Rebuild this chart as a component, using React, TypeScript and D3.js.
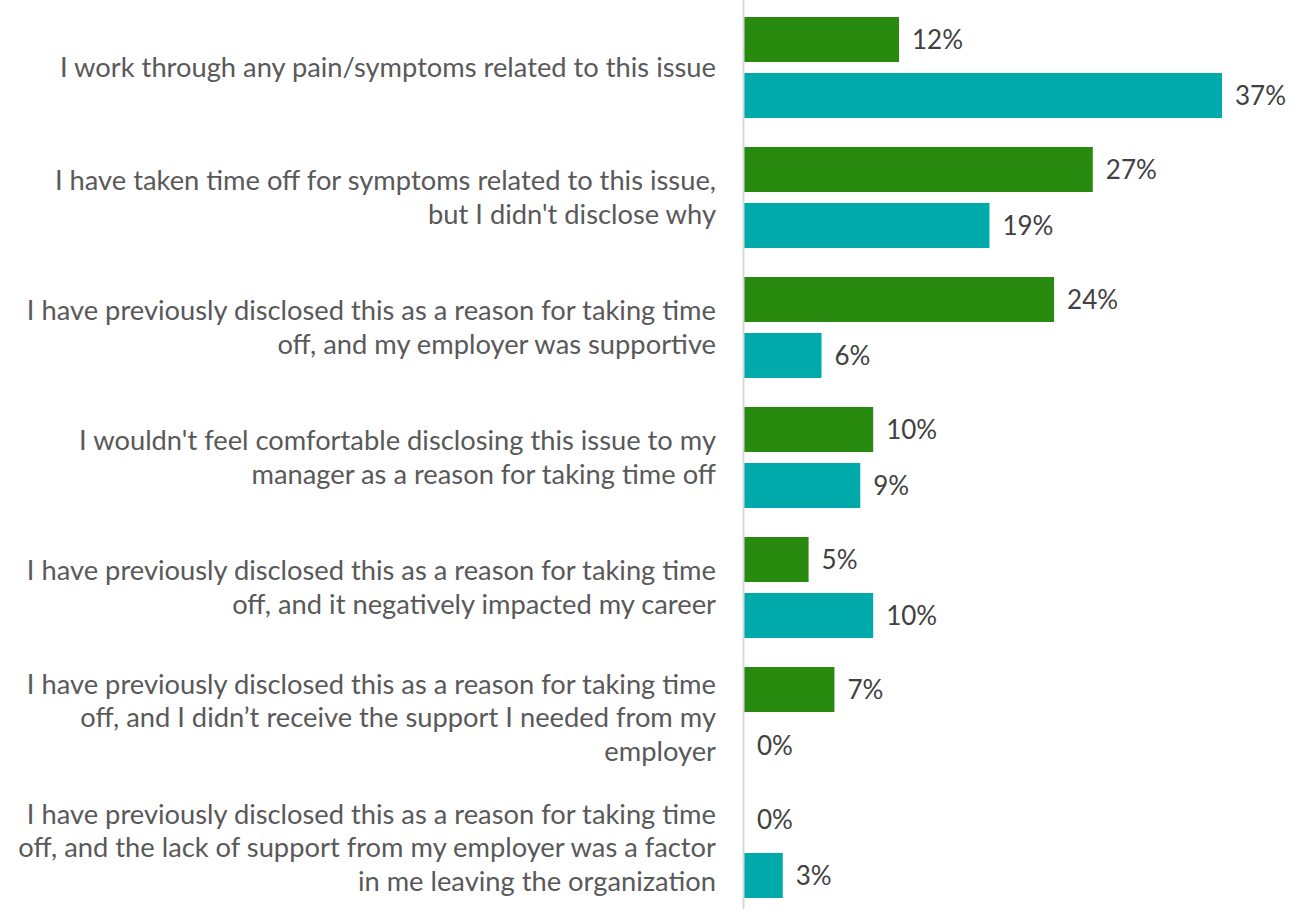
import { useMemo } from 'react';
import * as d3 from 'd3';

// Category labels, one entry per line as wrapped in the original
const categories: string[][] = [
    ['I work through any pain/symptoms related to this issue'],
    ['I have taken time off for symptoms related to this issue,', "but I didn't disclose why"],
    ['I have previously disclosed this as a reason for taking time', 'off, and my employer was supportive'],
    ["I wouldn't feel comfortable disclosing this issue to my", 'manager as a reason for taking time off'],
    ['I have previously disclosed this as a reason for taking time', 'off, and it negatively impacted my career'],
    [
        'I have previously disclosed this as a reason for taking time',
        'off, and I didn\u2019t receive the support I needed from my',
        'employer',
    ],
    [
        'I have previously disclosed this as a reason for taking time',
        'off, and the lack of support from my employer was a factor',
        'in me leaving the organization',
    ],
];

const seriesNames = ['green', 'teal'];
const greenValues = [12, 27, 24, 10, 5, 7, 0];
const tealValues = [37, 19, 6, 9, 10, 0, 3];
const seriesColors = ['#288A0E', '#00AAAA'];

const WIDTH = 1306;
const HEIGHT = 909;

export default function App() {
    const series = [greenValues, tealValues];

    const yScale = useMemo(
        () =>
            d3
                .scaleBand<number>()
                .domain(d3.range(categories.length))
                .range([2.5, 912.5])
                .paddingInner(0.223)
                .paddingOuter(0.1115),
        []
    );

    const subScale = useMemo(
        () =>
            d3
                .scaleBand<string>()
                .domain(seriesNames)
                .range([0, yScale.bandwidth()])
                .paddingInner(0.196)
                .paddingOuter(0),
        [yScale]
    );

    const xScale = useMemo(() => d3.scaleLinear().domain([0, 37]).range([744, 1222]), []);

    const fontFamily = 'Lato, "Open Sans", sans-serif';
    const lineHeight = 33.5;

    return (
        <svg
            width={WIDTH}
            height={HEIGHT}
            style={{ position: 'absolute', left: 0, top: 0, background: '#fff' }}
            fontFamily={fontFamily}
        >
            {/* bars */}
            {series.map((values, si) =>
                values.map((v, ci) => {
                    const y = (yScale(ci) ?? 0) + (subScale(seriesNames[si]) ?? 0);
                    const h = subScale.bandwidth();
                    return (
                        <g key={`${si}-${ci}`}>
                            {v > 0 && (
                                <rect
                                    x={xScale(0)}
                                    y={y}
                                    width={xScale(v) - xScale(0)}
                                    height={h}
                                    fill={seriesColors[si]}
                                />
                            )}
                            <text
                                x={xScale(v) + 13}
                                y={y + h / 2}
                                dy="0.35em"
                                fontSize={26}
                                fill="#404040"
                            >
                                {`${v}%`}
                            </text>
                        </g>
                    );
                })
            )}

            {/* axis line */}
            <line x1={743.5} x2={743.5} y1={0} y2={909} stroke="#D9D9D9" strokeWidth={2} />

            {/* category labels */}
            {categories.map((lines, ci) => {
                const cy = (yScale(ci) ?? 0) + yScale.bandwidth() / 2;
                const start = cy - ((lines.length - 1) * lineHeight) / 2;
                return (
                    <text key={ci} textAnchor="end" fontSize={27.3} fill="#595959">
                        {lines.map((line, li) => (
                            <tspan key={li} x={716} y={start + li * lineHeight} dy="0.35em">
                                {line}
                            </tspan>
                        ))}
                    </text>
                );
            })}
        </svg>
    );
}
